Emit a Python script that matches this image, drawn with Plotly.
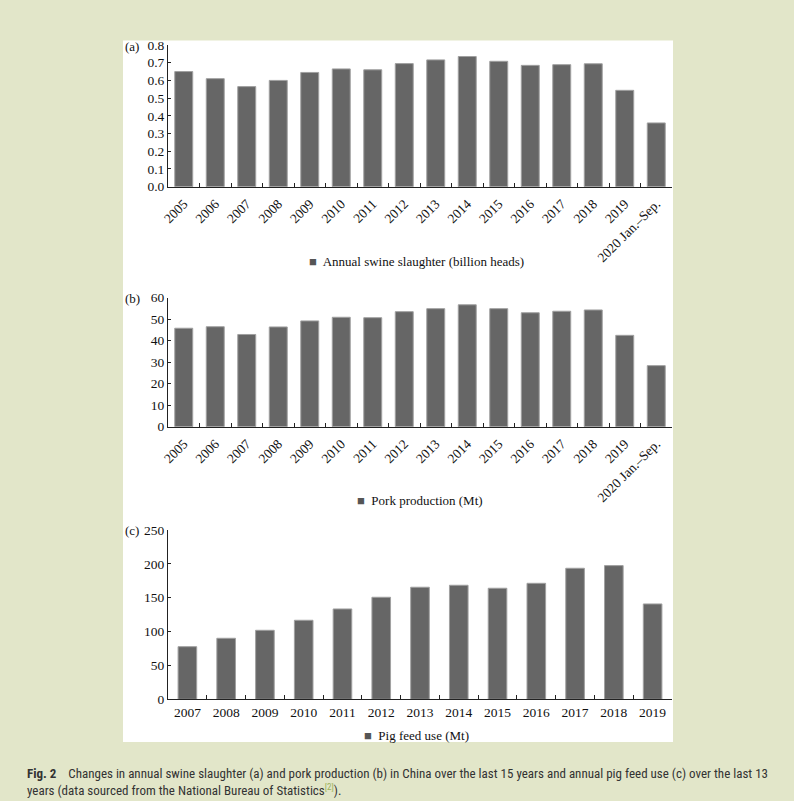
import plotly.graph_objects as go

W, H = 794, 801

years_ab = ["2005", "2006", "2007", "2008", "2009", "2010", "2011", "2012", "2013",
            "2014", "2015", "2016", "2017", "2018", "2019", "2020 Jan.–Sep."]
slaughter = [0.65, 0.61, 0.565, 0.60, 0.645, 0.665, 0.66, 0.695, 0.716,
             0.735, 0.708, 0.685, 0.689, 0.694, 0.544, 0.36]
pork = [45.8, 46.5, 42.9, 46.4, 49.2, 50.9, 50.7, 53.5, 54.9,
        56.7, 54.9, 53.0, 53.7, 54.3, 42.5, 28.4]
years_c = ["2007", "2008", "2009", "2010", "2011", "2012", "2013",
           "2014", "2015", "2016", "2017", "2018", "2019"]
feed = [77.7, 90.1, 101.9, 116.7, 133.4, 150.7, 165.5, 168.4, 164.0,
        171.3, 193.5, 197.4, 140.8]

legend_a = "Annual swine slaughter (billion heads)"
legend_b = "Pork production (Mt)"
legend_c = "Pig feed use (Mt)"

BG = "#E2E6C9"
BAR = "#666666"
SERIF = "Liberation Serif, Times New Roman, serif"


def px_x(x):
    return x / W


def px_y(y):
    return 1 - y / H


fig = go.Figure()
fig.add_trace(go.Bar(x=years_ab, y=slaughter, xaxis="x", yaxis="y",
                     marker=dict(color=BAR, line=dict(color="#a0a0a0", width=1)),
                     showlegend=False))
fig.add_trace(go.Bar(x=years_ab, y=pork, xaxis="x2", yaxis="y2",
                     marker=dict(color=BAR, line=dict(color="#a0a0a0", width=1)),
                     showlegend=False))
fig.add_trace(go.Bar(x=years_c, y=feed, xaxis="x3", yaxis="y3", width=0.48,
                     marker=dict(color=BAR, line=dict(color="#a0a0a0", width=1)),
                     showlegend=False))

xdom = [px_x(168), px_x(672)]
axis_common = dict(showline=True, linecolor="#222", linewidth=1, showgrid=False,
                   zeroline=False, automargin=False, ticks="inside",
                   tickcolor="#222", tickfont=dict(family=SERIF, size=13.5, color="#111"))

panels = [
    ("", 45, 186.7, 0.8, 0.1, ".1f", -45),
    ("2", 297.7, 426.7, 60, 10, "d", -45),
    ("3", 530, 699.3, 250, 50, "d", 0),
]
layout = {}
for suf, top, bot, ymax, dt, fmt, ang in panels:
    layout["xaxis" + suf] = dict(domain=xdom, anchor="y" + suf, tickangle=ang,
                                 tickson="boundaries", ticklen=4, type="category",
                                 ticklabelstandoff=3 if ang else 0,
                                 **axis_common)
    layout["yaxis" + suf] = dict(domain=[px_y(bot), px_y(top)], anchor="x" + suf,
                                 range=[0, ymax], dtick=dt, tickformat=fmt, ticklen=3,
                                 **axis_common)

fig.update_layout(**layout)
fig.update_layout(bargap=0.43, width=W, height=H,
                  margin=dict(l=0, r=0, t=0, b=0),
                  paper_bgcolor=BG, plot_bgcolor="white")

fig.add_shape(type="rect", xref="paper", yref="paper",
              x0=px_x(123), x1=px_x(673), y0=px_y(742), y1=px_y(40.5),
              fillcolor="white", line=dict(width=0), layer="below")

anns = []
for lab, y in [("(a)", 46), ("(b)", 298), ("(c)", 530)]:
    anns.append(dict(text=lab, x=px_x(123), y=px_y(y), xref="paper", yref="paper",
                     xanchor="left", yanchor="middle", showarrow=False,
                     font=dict(family=SERIF, size=13, color="#111")))
for txt, cx, y in [(legend_a, 416, 261), (legend_b, 420, 500), (legend_c, 416, 735)]:
    anns.append(dict(text="<span style='font-size:13px;fill:#555'>■</span>  " + txt,
                     x=px_x(cx), y=px_y(y), xref="paper", yref="paper",
                     xanchor="center", yanchor="middle", showarrow=False,
                     font=dict(family=SERIF, size=13, color="#111")))
CAP = "Liberation Sans Narrow, Roboto Condensed, Noto Sans, sans-serif"
anns.append(dict(text="<b>Fig. 2</b>    Changes in annual swine slaughter (a) and pork production (b) in China over the last 15 years and annual pig feed use (c) over the last 13",
                 x=px_x(25), y=px_y(773), xref="paper", yref="paper",
                 xanchor="left", yanchor="middle", showarrow=False,
                 font=dict(family=CAP, size=13, color="#333")))
anns.append(dict(text="years (data sourced from the National Bureau of Statistics<sup><span style='color:#9cb25a'>[2]</span></sup>).",
                 x=px_x(25), y=px_y(790), xref="paper", yref="paper",
                 xanchor="left", yanchor="middle", showarrow=False,
                 font=dict(family=CAP, size=13, color="#333")))
fig.update_layout(annotations=anns)

fig.write_html("out.html", config={"displayModeBar": False},
               post_script="document.body.style.margin='0px';document.body.style.overflow='hidden';")
